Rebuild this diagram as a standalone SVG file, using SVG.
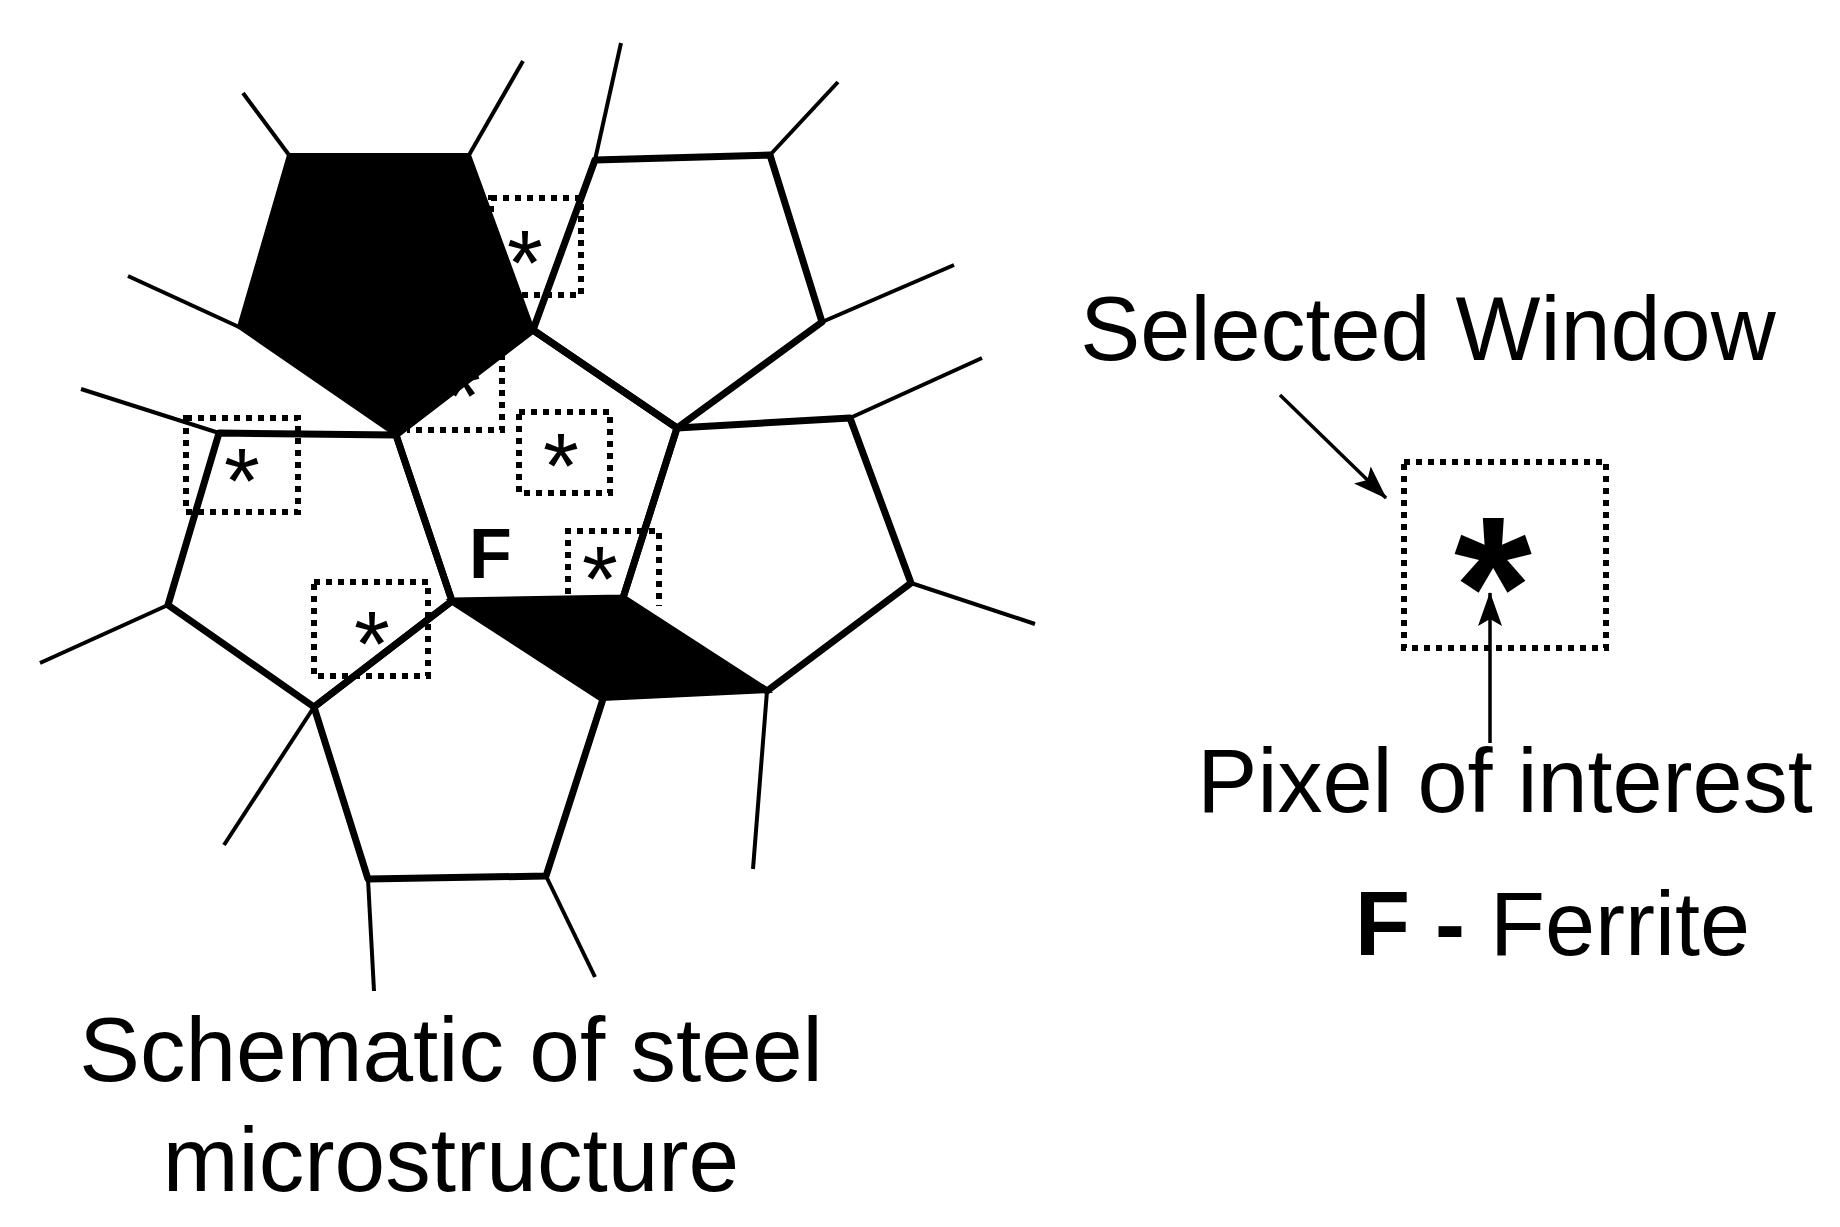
<svg xmlns="http://www.w3.org/2000/svg" width="1840" height="1227" viewBox="0 0 1840 1227">
<style>
.e{stroke:#000;stroke-width:7;fill:none;stroke-linejoin:round}
.s{stroke:#000;stroke-width:4;fill:none}
.d{stroke:#000;stroke-width:6;fill:none;stroke-dasharray:6 6}
.t{font-family:"Liberation Sans",Arial,sans-serif;fill:#000}
.st{font-family:"Liberation Sans",Arial,sans-serif;font-size:92px;text-anchor:middle}
</style>
<defs>
<marker id="ah2" viewBox="0 0 34 24" refX="33" refY="12" markerWidth="34" markerHeight="24" markerUnits="userSpaceOnUse" orient="auto"><path d="M0,0 L34,12 L0,24 L7,12 Z" fill="#000"/></marker>
</defs>
<g id="grains">
<polygon id="grain-top-black" points="289,155 469,155 533,330 396,435 239,327" fill="#000" stroke="#000" stroke-width="4"/>
<polygon id="grain-bottom-black" points="452,601 623,598 767,691 603,699" fill="#000" stroke="#000" stroke-width="4"/>
<polygon id="grain-top-right" class="e" points="595,160 770,155 822,322 677,428 533,330"/>
<polygon id="grain-center" class="e" points="396,435 533,330 677,428 623,598 452,601"/>
<polygon id="grain-right" class="e" points="677,428 850,418 911,583 767,691 623,598"/>
<polygon id="grain-bottom" class="e" points="452,601 603,699 546,876 368,879 314,707"/>
<polygon id="grain-left" class="e" points="396,435 219,433 168,605 314,707 452,601"/>
</g>
<g id="spurs">
<line class="s" x1="289" y1="155" x2="243" y2="93"/>
<line class="s" x1="469" y1="155" x2="523" y2="61"/>
<line class="s" x1="239" y1="327" x2="128" y2="276"/>
<line class="s" x1="595" y1="160" x2="621" y2="43"/>
<line class="s" x1="770" y1="155" x2="838" y2="82"/>
<line class="s" x1="822" y1="322" x2="954" y2="265"/>
<line class="s" x1="850" y1="418" x2="982" y2="358"/>
<line class="s" x1="911" y1="583" x2="1035" y2="624"/>
<line class="s" x1="767" y1="691" x2="753" y2="869"/>
<line class="s" x1="546" y1="876" x2="595" y2="977"/>
<line class="s" x1="368" y1="879" x2="374" y2="991"/>
<line class="s" x1="314" y1="707" x2="224" y2="845"/>
<line class="s" x1="219" y1="433" x2="81" y2="389"/>
<line class="s" x1="168" y1="605" x2="40" y2="663"/>
</g>
<g id="windows">
<rect class="d" x="491" y="198" width="90" height="97"/>
<path class="d" d="M502,342 V430 H407"/>
<rect class="d" x="519" y="412" width="91" height="81"/>
<rect class="d" x="186" y="418" width="112" height="94"/>
<path class="d" d="M568,594 V531 H659 V606"/>
<rect class="d" x="314" y="582" width="114" height="94"/>
<text class="st" x="525" y="295">*</text>
<text class="st" x="463" y="428">*</text>
<text class="st" x="561" y="498">*</text>
<text class="st" x="242" y="513">*</text>
<text class="st" x="600" y="611">*</text>
<text class="st" x="372" y="676">*</text>
</g>
<text class="t" x="469" y="578" font-size="70" font-weight="bold">F</text>
<text class="t" x="451" y="1081" font-size="91" text-anchor="middle">Schematic of steel</text>
<text class="t" x="451" y="1191" font-size="91" text-anchor="middle">microstructure</text>
<g id="legend">
<text class="t" x="1428" y="360" font-size="90" text-anchor="middle">Selected Window</text>
<rect class="d" x="1404" y="462" width="202" height="186"/>
<text class="t" x="1493" y="656" font-size="200" font-weight="bold" text-anchor="middle">*</text>
<text class="t" x="1505" y="812" font-size="90" text-anchor="middle">Pixel of interest</text>
<text class="t" x="1355" y="955" font-size="90"><tspan font-weight="bold">F -</tspan> Ferrite</text>
</g>
<g id="connectors">
<line x1="1280" y1="395" x2="1386" y2="498" stroke="#000" stroke-width="3.5" marker-end="url(#ah2)"/>
<line x1="1490" y1="743" x2="1490" y2="593" stroke="#000" stroke-width="3.5" marker-end="url(#ah2)"/>
</g>
</svg>
